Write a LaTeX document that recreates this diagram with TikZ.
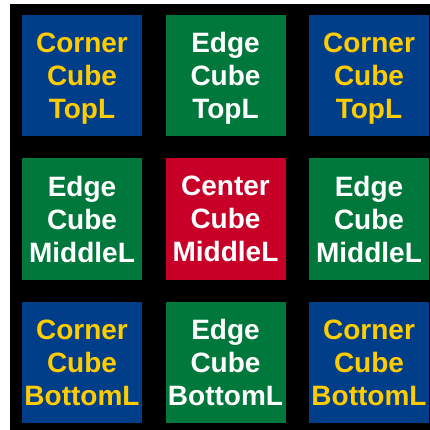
\documentclass[tikz,border=0pt]{standalone}
\usepackage{fontspec}
\setmainfont{Liberation Sans}
\definecolor{cubeblue}{RGB}{0,62,138}
\definecolor{cubegreen}{RGB}{0,120,60}
\definecolor{cubered}{RGB}{200,0,40}
\definecolor{cubeyellow}{RGB}{255,204,0}
\newcommand{\lastln}[1]{\smash{#1}}
\tikzset{
  cubebox/.style={minimum width=120pt,minimum height=121pt,inner sep=0pt,align=center,
    font=\fontsize{28}{33}\selectfont\bfseries},
  cornerbox/.style={cubebox,fill=cubeblue,text=cubeyellow},
  edgebox/.style={cubebox,fill=cubegreen,text=white},
  centerbox/.style={cubebox,fill=cubered,text=white}
}
\begin{document}
\begin{tikzpicture}[x=1pt,y=-1pt]
\useasboundingbox (0,0) rectangle (430,430);
\fill[white] (0,0) rectangle (430,430);
\fill[black] (10,4) rectangle (430,430);
\node[cornerbox] (tl) at (82,75.5) {Corner\\Cube\\\lastln{TopL}};
\node[edgebox] (tm) at (225.5,75.5) {Edge\\Cube\\\lastln{TopL}};
\node[cornerbox] (tr) at (369,75.5) {Corner\\Cube\\\lastln{TopL}};
\node[edgebox] (ml) at (82,219) {Edge\\Cube\\\lastln{MiddleL}};
\node[centerbox] (mm) at (225.5,219) {Center\\Cube\\\lastln{MiddleL}};
\node[edgebox] (mr) at (369,219) {Edge\\Cube\\\lastln{MiddleL}};
\node[cornerbox] (bl) at (82,362.5) {Corner\\Cube\\\lastln{BottomL}};
\node[edgebox] (bm) at (225.5,362.5) {Edge\\Cube\\\lastln{BottomL}};
\node[cornerbox] (br) at (369,362.5) {Corner\\Cube\\\lastln{BottomL}};
\end{tikzpicture}
\end{document}
